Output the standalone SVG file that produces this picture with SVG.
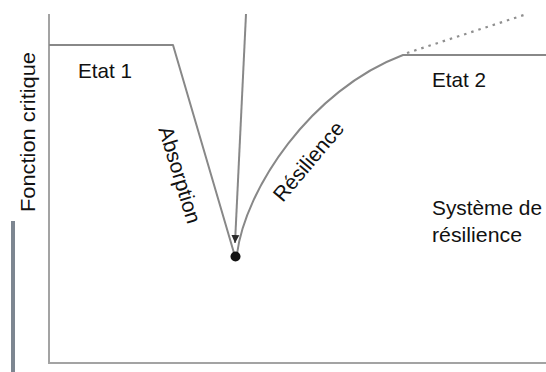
<svg xmlns="http://www.w3.org/2000/svg" width="546" height="372" viewBox="0 0 546 372">
  <style>
    .axis { stroke: #a3a3a3; stroke-width: 2; fill: none; }
    .curve { stroke: #888888; stroke-width: 2; fill: none; stroke-linejoin: round; }
    .dotted { stroke: #8f8f8f; stroke-width: 2.2; fill: none; stroke-dasharray: 2.5 5; }
    .lbl { font-family: "Liberation Sans", Arial, sans-serif; font-size: 21px; fill: #111111; }
  </style>
  <defs>
    <marker id="arrowhead" viewBox="0 0 10 10" refX="10" refY="5" markerWidth="8" markerHeight="11" markerUnits="userSpaceOnUse" orient="auto">
      <path d="M0,0 L10,5 L0,10 Z" fill="#2b2b2b"/>
    </marker>
  </defs>
  <rect width="546" height="372" fill="#ffffff"/>

  <g id="axes">
    <polyline class="axis" points="49,14 49,363 546,363"/>
    <line x1="13" y1="221" x2="13" y2="372" stroke="#7d8691" stroke-width="4"/>
  </g>

  <g id="connectors">
    <polyline class="curve" points="49,45 173,45 234,253"/>
    <path class="curve" d="M237,254 C245,190 310,90 403,55 L546,55"/>
    <line class="dotted" x1="407" y1="53" x2="527" y2="14"/>
    <line class="curve" x1="246" y1="14" x2="235" y2="243" stroke-width="1.6" marker-end="url(#arrowhead)"/>
  </g>

  <g id="point">
    <circle cx="235.5" cy="256.5" r="5" fill="#111111"/>
  </g>

  <g id="fonction-critique">
    <text class="lbl" transform="translate(35,132) rotate(-90)" text-anchor="middle" textLength="160" lengthAdjust="spacingAndGlyphs">Fonction critique</text>
  </g>
  <g id="etat1">
    <text class="lbl" x="78" y="78" textLength="54" lengthAdjust="spacingAndGlyphs">Etat 1</text>
  </g>
  <g id="etat2">
    <text class="lbl" x="432" y="87" textLength="54" lengthAdjust="spacingAndGlyphs">Etat 2</text>
  </g>
  <g id="absorption">
    <text class="lbl" transform="translate(173,177) rotate(73)" text-anchor="middle">Absorption</text>
  </g>
  <g id="resilience">
    <text class="lbl" transform="translate(314,166) rotate(-50)" text-anchor="middle">Résilience</text>
  </g>
  <g id="systeme">
    <text class="lbl" x="432" y="215" textLength="110" lengthAdjust="spacingAndGlyphs">Système de</text>
    <text class="lbl" x="432" y="242" textLength="90" lengthAdjust="spacingAndGlyphs">résilience</text>
  </g>
</svg>
